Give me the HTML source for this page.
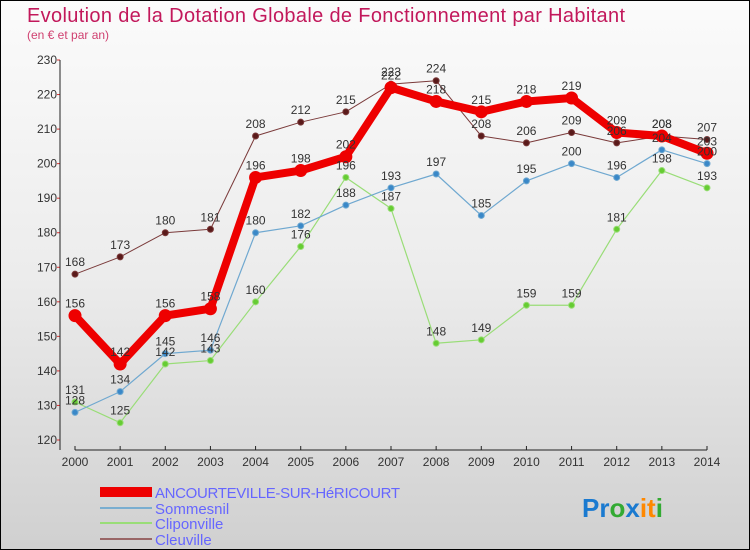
<!DOCTYPE html>
<html><head><meta charset="utf-8"><style>
body{margin:0}
#c{position:relative;width:750px;height:550px;box-sizing:border-box;border:1px solid #000;background:linear-gradient(#fbfbfb,#ececec 50%,#d0d0d0);font-family:"Liberation Sans",sans-serif;overflow:hidden}
</style></head><body>
<div id="c">
<svg id="s" width="750" height="550" style="position:absolute;left:-1px;top:-1px">
<text x="27" y="22" font-size="20" textLength="598" fill="#c2185b">Evolution de la Dotation Globale de Fonctionnement par Habitant</text>
<text x="27" y="39" font-size="12" fill="#d04070">(en € et par an)</text>
<g id="grid"></g><g id="axes"></g><g id="series"></g><g id="labels"></g>
<g>
<rect x="100" y="487" width="52" height="10" fill="#e00"/>
<text x="155" y="498" font-size="15" textLength="245" fill="#6666ff">ANCOURTEVILLE-SUR-HéRICOURT</text>
<rect x="100" y="507" width="52" height="2" fill="#7aaed0"/>
<text x="155" y="514" font-size="15" fill="#6666ff">Sommesnil</text>
<rect x="100" y="522" width="52" height="2" fill="#99dd77"/>
<text x="155" y="529" font-size="15" fill="#6666ff">Cliponville</text>
<rect x="100" y="538" width="52" height="2" fill="#996666"/>
<text x="155" y="545" font-size="15" fill="#6666ff">Cleuville</text>
</g>
<text x="582" y="517" font-size="26" font-weight="bold"><tspan fill="#1a7ad0">Pr</tspan><tspan fill="#3a3">o</tspan><tspan fill="#1a7ad0">x</tspan><tspan fill="#f80">it</tspan><tspan fill="#3a3">i</tspan></text>
</svg>
</div>
<script>
const years=[2000,2001,2002,2003,2004,2005,2006,2007,2008,2009,2010,2011,2012,2013,2014];
const yTicks=[120,130,140,150,160,170,180,190,200,210,220,230];
const mainVals=[156,142,156,158,196,198,202,222,218,215,218,219,209,208,203];
const sommesnilVals=[128,134,145,146,180,182,188,193,197,185,195,200,196,204,200];
const cliponvilleVals=[131,125,142,143,160,176,196,187,148,149,159,159,181,198,193];
const cleuvilleVals=[168,173,180,181,208,212,215,223,224,208,206,209,206,208,207];
const NS="http://www.w3.org/2000/svg";
const x0=75,x1=707,yTop=60,yBot=440,vMin=120,vMax=230;
const xs=i=>x0+(x1-x0)*i/(years.length-1);
const ys=v=>yBot-(v-vMin)/(vMax-vMin)*(yBot-yTop);
function mk(tag,attrs,parent){const e=document.createElementNS(NS,tag);for(const k in attrs)e.setAttribute(k,attrs[k]);document.getElementById(parent).appendChild(e);return e;}
const ax=mk('line',{x1:60,x2:60,y1:yTop,y2:yBot+10,stroke:'#222'},'axes');


const bx=mk('line',{x1:x0,x2:x1,y1:450,y2:450,stroke:'#222'},'axes');


yTicks.forEach(v=>{
 const g=mk('line',{x1:57,x2:60,y1:ys(v),y2:ys(v),stroke:'#d33'},'grid');
 
 
 const t=mk('text',{x:57,y:ys(v)+4,'font-size':12,fill:'#333','text-anchor':'end'},'axes');
 t.textContent=v;
 
 
});
years.forEach((y,i)=>{
 const tk=mk('line',{x1:xs(i),x2:xs(i),y1:446,y2:450,stroke:'#222'},'axes');
 
 
 const t=mk('text',{x:xs(i),y:466,'font-size':12,fill:'#333','text-anchor':'middle'},'axes');
 t.textContent=y;
 
 
});
function series(vals,color,w,r,dot,name){
 const p=mk('polyline',{points:vals.map((v,i)=>xs(i)+','+ys(v)).join(' '),fill:'none',stroke:color,'stroke-width':w,'stroke-linejoin':'round'},'series');
 
 
 vals.forEach((v,i)=>{
  const c=mk('circle',{cx:xs(i),cy:ys(v),r:r,fill:dot,stroke:color,'stroke-width':1},'series');
  
  
  const t=mk('text',{x:xs(i),y:ys(v)-8,'font-size':12,fill:'#333','text-anchor':'middle'},'labels');
  t.textContent=v;
  
  
 });
}
series(cleuvilleVals,'#7a3a3a',1,3,'#5a1a1a','cleuville');
series(cliponvilleVals,'#99dd77',1.2,3,'#66cc33','cliponville');
series(sommesnilVals,'#6fa8d0',1.2,3,'#3a88c8','sommesnil');
series(mainVals,'#ee0000',8,6,'#ee0000','main');
</script>
</body></html>
